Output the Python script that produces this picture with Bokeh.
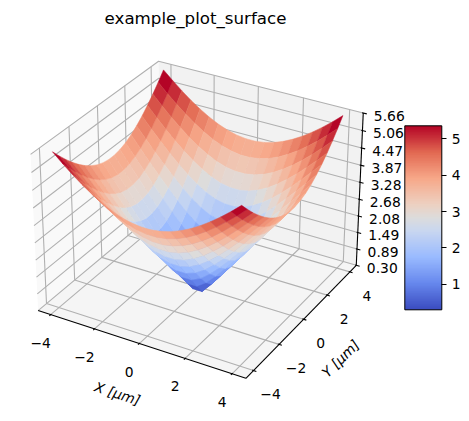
import numpy as np
from bokeh.plotting import figure
from bokeh.models import Range1d, ColorBar, LinearColorMapper, FixedTicker, ColumnDataSource
from bokeh.core.properties import value
from bokeh.embed import file_html
from bokeh.resources import INLINE

# ---- data -----------------------------------------------------------------
title_text = "example_plot_surface"
grid_half = [0.2105, 0.6316, 1.0526, 1.4737, 1.8947, 2.3158, 2.7368, 3.1579, 3.5789, 4.0]
z_quadrant = [
    [0.298, 0.666, 1.073, 1.489, 1.906, 2.325, 2.745, 3.165, 3.585, 4.006],
    [0.666, 0.893, 1.228, 1.603, 1.997, 2.400, 2.809, 3.220, 3.634, 4.050],
    [1.073, 1.228, 1.489, 1.811, 2.167, 2.544, 2.932, 3.329, 3.731, 4.136],
    [1.489, 1.603, 1.811, 2.084, 2.400, 2.745, 3.108, 3.485, 3.870, 4.263],
    [1.906, 1.997, 2.167, 2.400, 2.680, 2.992, 3.329, 3.683, 4.050, 4.426],
    [2.325, 2.400, 2.544, 2.745, 2.992, 3.275, 3.585, 3.916, 4.263, 4.622],
    [2.745, 2.809, 2.932, 3.108, 3.329, 3.585, 3.870, 4.179, 4.505, 4.847],
    [3.165, 3.220, 3.329, 3.485, 3.683, 3.916, 4.179, 4.466, 4.773, 5.096],
    [3.585, 3.634, 3.731, 3.870, 4.050, 4.263, 4.505, 4.773, 5.061, 5.367],
    [4.006, 4.050, 4.136, 4.263, 4.426, 4.622, 4.847, 5.096, 5.367, 5.657],
]
x_ticks = [-4, -2, 0, 2, 4]
y_ticks = [-4, -2, 0, 2, 4]
z_ticks = [0.30, 0.89, 1.49, 2.08, 2.68, 3.28, 3.87, 4.47, 5.06, 5.66]
cbar_ticks = [1, 2, 3, 4, 5]
x_lim = (-4.58, 4.58)
y_lim = (-4.58, 4.58)
z_lim = (0.30, 5.66)
coolwarm_stops = [
    (0.0, "#3b4cc0"), (1/7, "#6788ee"), (2/7, "#9abbff"), (3/7, "#c9d7f0"), (0.5, "#dddcdc"),
    (4/7, "#edd1c2"), (5/7, "#f7a889"), (6/7, "#e26952"), (1.0, "#b40426"),
]

# ---- palette --------------------------------------------------------------
def _rgb(h):
    return [int(h[i:i+2], 16) for i in (1, 3, 5)]
_pos = [s[0] for s in coolwarm_stops]
_cols = np.array([_rgb(s[1]) for s in coolwarm_stops], float)
_t = np.linspace(0, 1, 256)
palette = ["#%02x%02x%02x" % tuple(int(round(np.interp(t, _pos, _cols[:, k]))) for k in range(3)) for t in _t]

# ---- 3D projection (elev 30, azim -60, perspective) -------------------------
aspect = np.array([4.0, 4.0, 3.0])
aspect = aspect * 1.8294640721620434 * 25 / 24 / np.linalg.norm(aspect)
elev, azim, dist = np.radians(30), np.radians(-60), 10.0
R = aspect / 2
eye = R + dist * np.array([np.cos(elev)*np.cos(azim), np.cos(elev)*np.sin(azim), np.sin(elev)])
w = (eye - R) / np.linalg.norm(eye - R)
u = np.cross([0, 0, 1.0], w); u = u / np.linalg.norm(u)
v = np.cross(w, u)

def raw(x, y, z):
    p = np.stack([
        (np.asarray(x, float) - x_lim[0]) / (x_lim[1] - x_lim[0]) * aspect[0],
        (np.asarray(y, float) - y_lim[0]) / (y_lim[1] - y_lim[0]) * aspect[1],
        (np.asarray(z, float) - z_lim[0]) / (z_lim[1] - z_lim[0]) * aspect[2]], axis=-1) - eye
    vx, vy, vz = p @ u, p @ v, p @ w
    return vx / -vz, vy / -vz, vz

# calibration of the box corners onto the picture
_xa, _xb, _ya, _yb, _za, _zb = *x_lim, *y_lim, *z_lim
_corn = [((_xa, _ya, _za), (37.7, 310.0)), ((_xb, _ya, _za), (245.0, 377.7)), ((_xb, _yb, _za), (356.0, 265.0)),
         ((_xa, _ya, _zb), (30.0, 154.0)), ((_xb, _yb, _zb), (362.7, 112.3)), ((_xa, _yb, _zb), (158.3, 60.7))]
_uv = np.array([raw(*c[0])[:2] for c in _corn], float)
_px = np.array([c[1] for c in _corn], float)
_sx = np.polyfit(_uv[:, 0], _px[:, 0], 1)
_sy = np.polyfit(_uv[:, 1], _px[:, 1], 1)

def proj(x, y, z):
    a, b, d = raw(x, y, z)
    return _sx[0]*a + _sx[1], _sy[0]*b + _sy[1], d

def seg(*pts):
    a = np.array(pts, float)
    X, Y, _ = proj(a[:, 0], a[:, 1], a[:, 2])
    return list(X), list(Y)

# ---- figure ---------------------------------------------------------------
p = figure(width=461, height=413, x_range=Range1d(0, 461), y_range=Range1d(413, 0),
           output_backend="svg", toolbar_location=None, min_border=0)
p.axis.visible = False
p.grid.visible = False
p.outline_line_color = None
p.background_fill_color = "white"

# panes
for pts, col in [
    (((_xa, _ya, _za), (_xa, _yb, _za), (_xa, _yb, _zb), (_xa, _ya, _zb)), "#f9f9f9"),
    (((_xa, _yb, _za), (_xb, _yb, _za), (_xb, _yb, _zb), (_xa, _yb, _zb)), "#f2f2f2"),
    (((_xa, _ya, _za), (_xb, _ya, _za), (_xb, _yb, _za), (_xa, _yb, _za)), "#f5f5f5"),
]:
    X, Y = seg(*pts)
    p.patch(X, Y, fill_color=col, line_color=None)

# gridlines
gx, gy = [], []
for t in x_ticks:
    X, Y = seg((t, _ya, _za), (t, _yb, _za), (t, _yb, _zb)); gx.append(X); gy.append(Y)
for t in y_ticks:
    X, Y = seg((_xb, t, _za), (_xa, t, _za), (_xa, t, _zb)); gx.append(X); gy.append(Y)
for t in np.linspace(_za, _zb, len(z_ticks)):
    X, Y = seg((_xa, _ya, t), (_xa, _yb, t), (_xb, _yb, t)); gx.append(X); gy.append(Y)
p.multi_line(gx, gy, line_color="#b0b0b0", line_width=1.1)

# axis lines and tick marks
ax, ay = [], []
for pts in [((_xa, _ya, _za), (_xb, _ya, _za)), ((_xb, _ya, _za), (_xb, _yb, _za)), ((_xb, _yb, _za), (_xb, _yb, _zb))]:
    X, Y = seg(*pts); ax.append(X); ay.append(Y)
for t in x_ticks:
    X, Y = seg((t, _ya - 0.09, _za), (t, _ya + 0.05, _za)); ax.append(X); ay.append(Y)
for t in y_ticks:
    X, Y = seg((_xb + 0.12, t, _za), (_xb - 0.05, t, _za)); ax.append(X); ay.append(Y)
for t in np.linspace(_za, _zb, len(z_ticks)):
    X, Y = seg((_xb - 0.05, _yb, t), (_xb + 0.15, _yb, t)); ax.append(X); ay.append(Y)
p.multi_line(ax, ay, line_color="black", line_width=1.1)

# surface
full = list(range(9, -1, -1)) + list(range(10))
gridv = np.array([-grid_half[i] if k < 10 else grid_half[i] for k, i in enumerate(full)])
Z = np.array(z_quadrant)[np.ix_(full, full)]
xs, ys, vals, depth = [], [], [], []
for i in range(19):
    for j in range(19):
        qx = [gridv[j], gridv[j+1], gridv[j+1], gridv[j]]
        qy = [gridv[i], gridv[i], gridv[i+1], gridv[i+1]]
        qz = [Z[i, j], Z[i, j+1], Z[i+1, j+1], Z[i+1, j]]
        X, Y, D = proj(qx, qy, qz)
        xs.append(list(X)); ys.append(list(Y)); vals.append(float(np.mean(qz))); depth.append(float(np.mean(D)))
order = np.argsort(depth)
src = ColumnDataSource(dict(xs=[xs[k] for k in order], ys=[ys[k] for k in order], val=[vals[k] for k in order]))
mapper = LinearColorMapper(palette=palette, low=min(vals), high=max(vals))
p.patches("xs", "ys", source=src, fill_color={"field": "val", "transform": mapper},
          line_color={"field": "val", "transform": mapper}, line_width=0.5)

# texts
FONT = value("DejaVu Sans")
TICK = value("13.89px")
def label(x, y, s, size=TICK, angle=0, style="normal", align="center", baseline="middle"):
    p.text([x], [y], text=[s], text_font=FONT, text_font_size=size, text_color="black", angle=angle,
           angle_units="deg", text_align=align, text_baseline=baseline, text_font_style=style)

for t in x_ticks:
    X, Y, _ = proj(t, _ya, _za)
    label(float(X) - 10, float(Y) + 28, str(t).replace("-", "\u2212"))
for t in y_ticks:
    X, Y, _ = proj(_xb, t, _za)
    label(float(X) + 17, float(Y) + 24, str(t).replace("-", "\u2212"))
for s, t in zip(z_ticks, np.linspace(_za, _zb, len(z_ticks))):
    X, Y, _ = proj(_xb, _yb, t)
    label(float(X) + 26, float(Y) + 2.7, "%.2f" % s)

label(195, 18, title_text, size=value("16.67px"))
label(117, 393, "X [\u03bcm]", angle=-18, style="italic")
label(340, 358, "Y [\u03bcm]", angle=45, style="italic")

# colour bar
cb = ColorBar(color_mapper=mapper, location=(404.3, 103.7), width=37, height=184, padding=0, margin=0,
              ticker=FixedTicker(ticks=cbar_ticks), major_tick_in=0, major_tick_out=5,
              major_tick_line_color="black", major_tick_line_width=1, minor_tick_line_color=None,
              bar_line_color="black", bar_line_width=1, label_standoff=5,
              major_label_text_font="DejaVu Sans", major_label_text_font_size="13.89px",
              major_label_text_color="black", background_fill_color=None, border_line_color=None)
p.add_layout(cb, "center")

open("out.html", "w").write(file_html(p, INLINE))
